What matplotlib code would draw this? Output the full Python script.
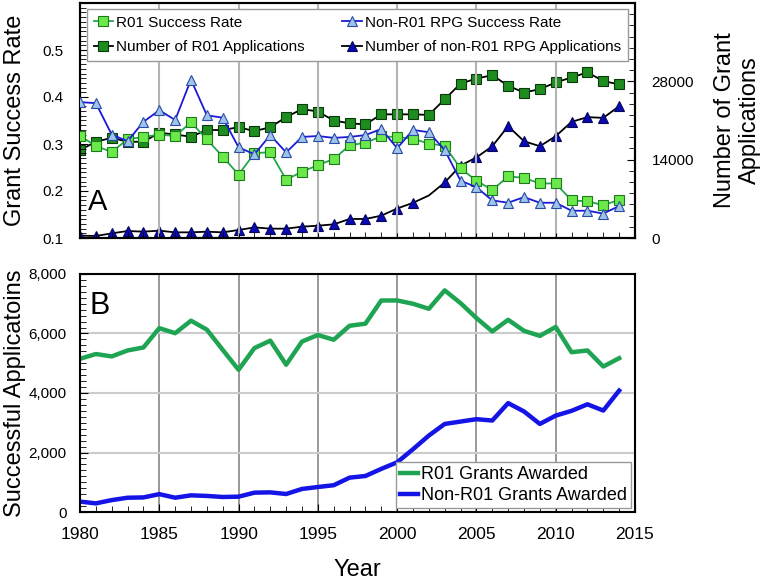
import matplotlib.pyplot as plt
import numpy as np
from matplotlib.ticker import MultipleLocator, FuncFormatter

plt.rcParams["font.family"] = ["Liberation Sans", "DejaVu Sans"]

years = list(range(1980, 2015))

# panel A: success rates (left axis)
r01_rate = [0.317, 0.296, 0.283, 0.310, 0.315, 0.320, 0.317, 0.346, 0.310, 0.273,
            0.235, 0.280, 0.283, 0.224, 0.241, 0.255, 0.268, 0.297, 0.303, 0.316,
            0.315, 0.311, 0.301, 0.296, 0.248, 0.222, 0.202, 0.231, 0.228, 0.216,
            0.216, 0.180, 0.178, 0.170, 0.181]
nonr01_rate = [0.389, 0.387, 0.320, 0.306, 0.347, 0.372, 0.351, 0.437, 0.361, 0.356,
               0.293, 0.278, 0.319, 0.282, 0.315, 0.317, 0.313, 0.315, 0.319, 0.332,
               0.291, 0.330, 0.325, 0.287, 0.222, 0.208, 0.180, 0.175, 0.187, 0.175,
               0.175, 0.158, 0.158, 0.152, 0.168]

# panel A: number of applications (right axis)
r01_apps = [15700, 17200, 17900, 17200, 17200, 18800, 18500, 18100, 19300, 19300,
            19800, 19100, 19800, 21600, 23050, 22600, 21000, 20500, 20300, 22100,
            22100, 22100, 22000, 24800, 27600, 28500, 29100, 27200, 26000, 26600,
            27800, 28700, 29600, 28050, 27450]
nonr01_apps = [420, 360, 830, 1250, 1130, 1310, 1010, 1010, 1130, 1010,
               1430, 1900, 1670, 1670, 2020, 2200, 2440, 3400, 3400, 3990,
               5270, 6290, 7600, 9920, 12950, 14400, 16400, 19980, 17300, 16400,
               18200, 20760, 21600, 21470, 23560]

# panel B: grants awarded
r01_awarded = [5150, 5310, 5230, 5430, 5530, 6180, 6010, 6430, 6130, 5450,
               4780, 5510, 5760, 4950, 5730, 5950, 5790, 6260, 6330, 7110,
               7110, 7000, 6830, 7450, 7020, 6520, 6070, 6460, 6090, 5920,
               6220, 5370, 5430, 4890, 5170]
nonr01_awarded = [350, 290, 400, 480, 490, 600, 480, 560, 540, 505,
                  515, 650, 660, 605, 775, 840, 900, 1155, 1210, 1450,
                  1670, 2110, 2570, 2960, 3040, 3120, 3075, 3660, 3380, 2960,
                  3240, 3400, 3620, 3410, 4080]

fig = plt.figure(figsize=(7.62, 5.8), dpi=100)
ax1 = fig.add_axes([80 / 762, 1 - 238 / 580, 555 / 762, 235 / 580])
ax2 = ax1.twinx()
axb = fig.add_axes([80 / 762, 1 - 512 / 580, 555 / 762, 238 / 580])

ms = 7
l1, = ax1.plot(years, r01_rate, color="#22a84a", lw=1.3, marker="s", ms=ms,
               mfc="#6be84a", mec="#1d7a1d", mew=0.8, label="R01 Success Rate", zorder=4)
l3, = ax1.plot(years, nonr01_rate, color="#1a1ad8", lw=1.3, marker="^", ms=ms,
               mfc="#9ec4ea", mec="#2a4aa8", mew=0.8, label="Non-R01 RPG Success Rate", zorder=4)
l2, = ax2.plot(years, r01_apps, color="black", lw=1.3, marker="s", ms=ms,
               mfc="#1e8c1e", mec="#0a3a0a", mew=0.8, label="Number of R01 Applications")
mk = [i for i in range(len(years)) if years[i] != 2002]
l4, = ax2.plot(years, nonr01_apps, color="black", lw=1.3, marker="^", ms=ms,
               mfc="#0a0ab4", mec="#05055a", mew=0.8, markevery=mk,
               label="Number of non-R01 RPG Applications")

ax1.set_zorder(ax2.get_zorder() + 1)
ax1.patch.set_visible(False)

ax1.set_xlim(1980, 2015)
ax1.set_ylim(0.1, 0.6)
ax1.set_yticks([0.1, 0.2, 0.3, 0.4, 0.5])
ax1.yaxis.set_minor_locator(MultipleLocator(0.01))
ax1.xaxis.set_major_locator(MultipleLocator(5))
ax1.xaxis.set_minor_locator(MultipleLocator(1))
ax1.set_xticklabels([])
ax1.grid(axis="x", color="#b4b4b4", lw=1.5)
ax1.tick_params(which="both", direction="in", labelsize=11, top=False)
ax1.tick_params(axis="y", which="major", length=6, pad=12)
ax1.tick_params(which="minor", length=4)
ax1.set_ylabel("Grant Success Rate", fontsize=17)
ax1.yaxis.set_label_coords(-0.098, 0.5)
ax1.text(0.015, 0.12, "A", transform=ax1.transAxes, fontsize=21)

ax2.set_ylim(0, 42000)
ax2.set_yticks([0, 14000, 28000])
ax2.yaxis.set_minor_locator(MultipleLocator(2000))
ax2.tick_params(which="both", direction="in", labelsize=11)
ax2.tick_params(axis="y", which="major", length=6, pad=12)
ax2.tick_params(axis="y", which="minor", length=4)
ax2.set_ylabel("Number of Grant\nApplications", fontsize=17, labelpad=14, rotation=90)

for a in (ax1, ax2):
    for s in a.spines.values():
        s.set_linewidth(1.5)

leg = ax1.legend(handles=[l1, l2, l3, l4], ncol=2, loc="upper left",
                 bbox_to_anchor=(0.012, 0.975, 0.975, 0.0), mode="expand",
                 fontsize=11, handlelength=1.3, handletextpad=0.2,
                 borderaxespad=0, fancybox=False, framealpha=1,
                 edgecolor="#999999", borderpad=0.45, labelspacing=0.7)
leg.get_frame().set_linewidth(1.0)

# panel B
axb.plot(years, r01_awarded, color="#1ea452", lw=3.2, label="R01 Grants Awarded")
axb.plot(years, nonr01_awarded, color="#1414e6", lw=3.2, label="Non-R01 Grants Awarded")
axb.set_xlim(1980, 2015)
axb.set_ylim(0, 8000)
axb.xaxis.set_major_locator(MultipleLocator(5))
axb.xaxis.set_minor_locator(MultipleLocator(1))
axb.yaxis.set_major_locator(MultipleLocator(2000))
axb.yaxis.set_minor_locator(MultipleLocator(200))
axb.yaxis.set_major_formatter(FuncFormatter(lambda v, p: f"{int(v):,}"))
axb.grid(axis="x", color="#888888", lw=1.2)
axb.grid(axis="y", color="#cccccc", lw=1.5)
axb.tick_params(which="both", direction="in")
axb.tick_params(axis="y", labelsize=11, pad=9.5)
axb.tick_params(axis="x", labelsize=12.5, pad=11)
axb.tick_params(which="major", length=6)
axb.tick_params(which="minor", length=4)
for s in axb.spines.values():
    s.set_linewidth(1.5)
axb.set_ylabel("Successful Applicatoins", fontsize=17)
axb.yaxis.set_label_coords(-0.098, 0.5)
axb.set_xlabel("Year", fontsize=17, labelpad=12)
axb.text(0.018, 0.83, "B", transform=axb.transAxes, fontsize=22)
legb = axb.legend(loc="lower right", fontsize=13, handlelength=1.0, handletextpad=0.15,
                  fancybox=False, framealpha=1, edgecolor="#999999",
                  borderaxespad=0.2, borderpad=0.25, labelspacing=0.2)
legb.get_frame().set_linewidth(1.0)

plt.savefig("out.png", dpi=100)
